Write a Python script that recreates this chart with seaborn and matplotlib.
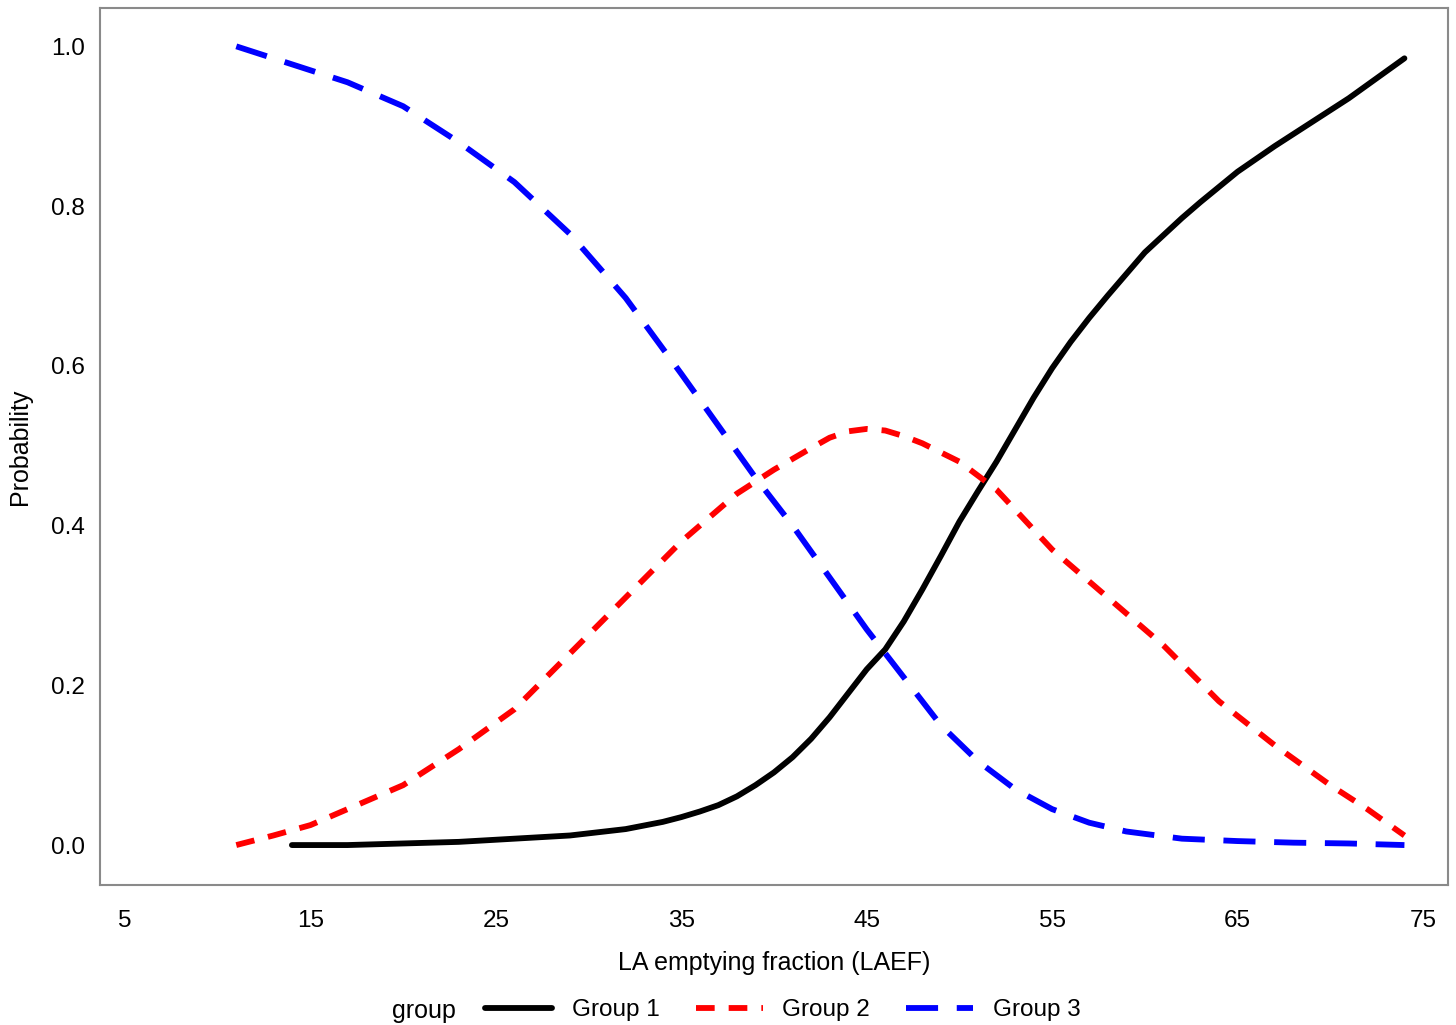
import numpy as np
import pandas as pd
import matplotlib
matplotlib.use("Agg")
import matplotlib.pyplot as plt
import seaborn as sns

# ---- data ----
g1_x = [14, 17, 20, 23, 26, 29, 32, 34, 35, 36, 37, 38, 39, 40, 41, 42, 43, 44, 45, 46, 47, 48, 49, 50, 51, 52, 53, 54, 55, 56, 57, 58, 60, 62, 63, 65, 67, 69, 71, 74]
g1_y = [0.0, 0.0, 0.002, 0.004, 0.008, 0.012, 0.02, 0.029, 0.035, 0.042, 0.05, 0.061, 0.075, 0.091, 0.11, 0.133, 0.16, 0.19, 0.22, 0.245, 0.28, 0.32, 0.362, 0.405, 0.443, 0.48, 0.52, 0.56, 0.597, 0.63, 0.66, 0.688, 0.742, 0.785, 0.805, 0.843, 0.875, 0.905, 0.935, 0.985]

g2_x = [11, 13, 15, 17, 20, 23, 26, 29, 32, 35, 38, 40, 42, 43, 44, 45, 46, 47, 48, 50, 52, 55, 58, 61, 64, 67, 70, 72, 74]
g2_y = [0.0, 0.012, 0.025, 0.045, 0.075, 0.12, 0.17, 0.24, 0.31, 0.38, 0.44, 0.47, 0.497, 0.51, 0.518, 0.521, 0.519, 0.512, 0.503, 0.48, 0.445, 0.37, 0.31, 0.25, 0.18, 0.125, 0.075, 0.045, 0.012]

g3_x = [11, 13, 15, 17, 20, 23, 26, 29, 32, 35, 37, 39, 41, 43, 45, 47, 49, 51, 53, 55, 57, 59, 62, 65, 68, 71, 74]
g3_y = [1.0, 0.985, 0.97, 0.955, 0.925, 0.88, 0.83, 0.765, 0.685, 0.59, 0.525, 0.46, 0.40, 0.335, 0.27, 0.21, 0.15, 0.105, 0.07, 0.045, 0.028, 0.017, 0.008, 0.005, 0.003, 0.002, 0.0]

group_names = ["Group 1", "Group 2", "Group 3"]
x_ticks = [5, 15, 25, 35, 45, 55, 65, 75]
y_ticks = [0.0, 0.2, 0.4, 0.6, 0.8, 1.0]

df = pd.concat([
    pd.DataFrame({"x": g1_x, "y": g1_y, "group": group_names[0]}),
    pd.DataFrame({"x": g2_x, "y": g2_y, "group": group_names[1]}),
    pd.DataFrame({"x": g3_x, "y": g3_y, "group": group_names[2]}),
], ignore_index=True)

sns.set_style("white")
plt.rcParams["font.family"] = ["Liberation Sans", "DejaVu Sans"]
plt.rcParams["text.color"] = "black"
plt.rcParams["axes.labelcolor"] = "black"

fig = plt.figure(figsize=(14.56, 10.25), dpi=100)
ax = fig.add_axes([100 / 1456, 1 - 885 / 1025, 1348 / 1456, 877 / 1025])

palette = {"Group 1": "#000000", "Group 2": "#ff0000", "Group 3": "#0000ff"}
dashes = {"Group 1": "", "Group 2": (3.2, 2.4), "Group 3": (5.5, 3.2)}

sns.lineplot(data=df, x="x", y="y", hue="group", style="group",
             palette=palette, dashes=dashes, linewidth=4.2, ax=ax,
             sort=False, estimator=None, legend=True)

ax.set_xlim(3.65, 76.35)
ax.set_ylim(-0.05, 1.048)
ax.set_xticks(x_ticks)
ax.set_xticklabels([str(t) for t in x_ticks])
ax.set_yticks(y_ticks)
ax.set_yticklabels([f"{t:.1f}" for t in y_ticks])

for sp in ax.spines.values():
    sp.set_visible(True)
    sp.set_color("#8a8a8a")
    sp.set_linewidth(1.5)

ax.tick_params(axis="both", which="major", direction="out", length=6, width=1.2,
               color="#8a8a8a", labelcolor="black", labelsize=17.5)
ax.tick_params(axis="y", pad=5)
ax.tick_params(axis="x", pad=12)

ax.set_xlabel("LA emptying fraction (LAEF)", fontsize=18, color="black")
ax.set_ylabel("Probability", fontsize=18, color="black")
ax.xaxis.set_label_coords(0.5, -(963 - 885) / 877)
ax.xaxis.label.set_va("center")
ax.yaxis.set_label_coords(-(100 - 20) / 1348, 0.5)
ax.yaxis.label.set_va("center")

handles, labels = ax.get_legend_handles_labels()
ax.get_legend().remove()
for h in handles:
    h.set_linewidth(4.2)

fig.text(424 / 1456, 1 - 1011 / 1025, "group", fontsize=18, ha="center", va="center",
         color="black")
fig.legend(handles, labels, loc="center", bbox_to_anchor=(783 / 1456, 1 - 1010 / 1025),
           ncol=3, frameon=False, fontsize=17.5, handlelength=2.75, handletextpad=0.8,
           columnspacing=1.5, borderpad=0.2, labelcolor="black")

fig.savefig("out.png", dpi=100, facecolor="white")
